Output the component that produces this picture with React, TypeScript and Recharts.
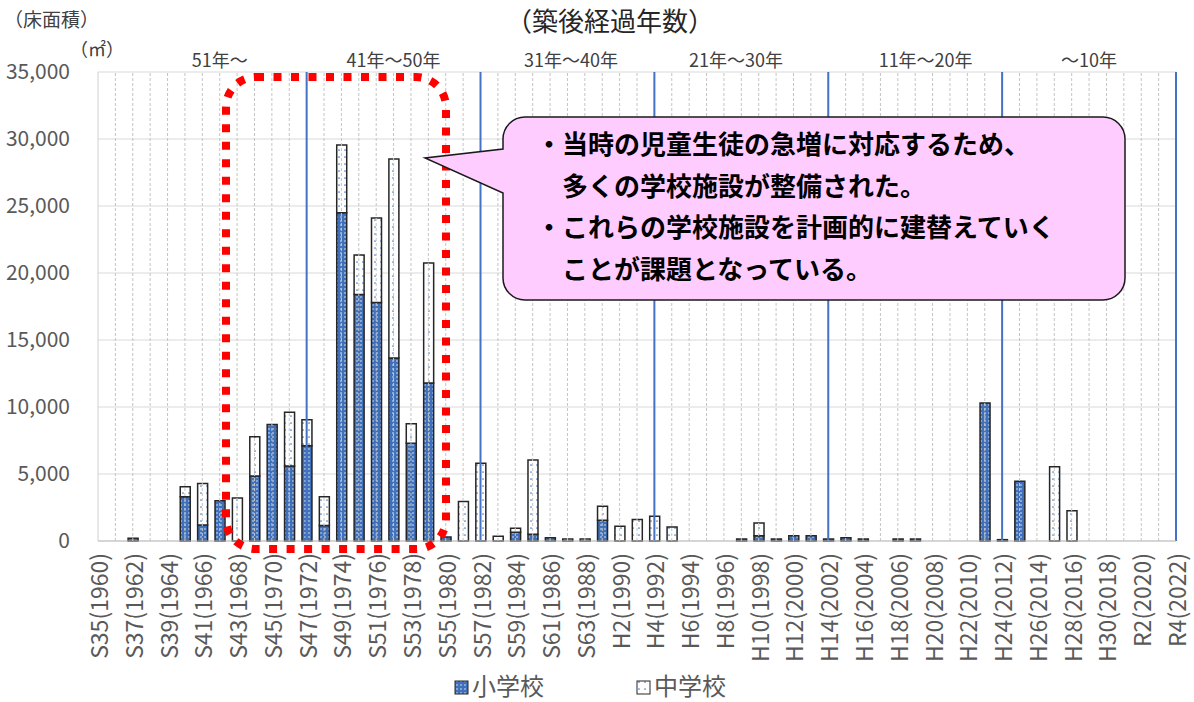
import { Bar, BarChart, CartesianGrid, ReferenceLine, XAxis, YAxis } from "recharts";

const years = [
  1960, 1961, 1962, 1963, 1964, 1965, 1966, 1967, 1968, 1969,
  1970, 1971, 1972, 1973, 1974, 1975, 1976, 1977, 1978, 1979,
  1980, 1981, 1982, 1983, 1984, 1985, 1986, 1987, 1988, 1989,
  1990, 1991, 1992, 1993, 1994, 1995, 1996, 1997, 1998, 1999,
  2000, 2001, 2002, 2003, 2004, 2005, 2006, 2007, 2008, 2009,
  2010, 2011, 2012, 2013, 2014, 2015, 2016, 2017, 2018, 2019,
  2020, 2021, 2022,
];

// 小学校 (m²)
const elementary = [
  0, 0, 200, 0, 0, 3300, 1200, 3000, 0, 4850,
  8700, 5600, 7100, 1150, 24500, 18400, 17800, 13650, 7300, 11800,
  300, 0, 0, 0, 650, 500, 250, 0, 0, 1550,
  0, 0, 0, 0, 0, 0, 0, 150, 400, 150,
  400, 400, 150, 250, 150, 0, 150, 150, 0, 0,
  0, 10300, 100, 4450, 0, 0, 0, 0, 0, 0,
  0, 0, 0,
];

// 中学校 (m²)
const junior = [
  0, 0, 0, 0, 0, 750, 3100, 0, 3200, 2930,
  0, 4000, 1950, 2150, 5050, 2950, 6300, 14850, 1450, 8950,
  0, 2950, 5800, 350, 300, 5550, 0, 150, 150, 1050,
  1100, 1600, 1850, 1050, 0, 0, 0, 0, 950, 0,
  0, 0, 0, 0, 0, 0, 0, 0, 0, 0,
  0, 0, 0, 0, 0, 5550, 2250, 0, 0, 0,
  0, 0, 0,
];

const tickYears = [
  1960, 1962, 1964, 1966, 1968, 1970, 1972, 1974, 1976, 1978, 1980,
  1982, 1984, 1986, 1988, 1990, 1992, 1994, 1996, 1998, 2000, 2002,
  2004, 2006, 2008, 2010, 2012, 2014, 2016, 2018, 2020, 2022,
];
const tickLabels = [
  "S35(1960)", "S37(1962)", "S39(1964)", "S41(1966)", "S43(1968)", "S45(1970)",
  "S47(1972)", "S49(1974)", "S51(1976)", "S53(1978)", "S55(1980)", "S57(1982)",
  "S59(1984)", "S61(1986)", "S63(1988)", "H2(1990)", "H4(1992)", "H6(1994)",
  "H8(1996)", "H10(1998)", "H12(2000)", "H14(2002)", "H16(2004)", "H18(2006)",
  "H20(2008)", "H22(2010)", "H24(2012)", "H26(2014)", "H28(2016)", "H30(2018)",
  "R2(2020)", "R4(2022)",
];

const yTicks = [0, 5000, 10000, 15000, 20000, 25000, 30000, 35000];

// 築後経過年数の区切り
const periodYears = [1972, 1982, 1992, 2002, 2012, 2022];
const periodLabels = ["51年～", "41年～50年", "31年～40年", "21年～30年", "11年～20年", "～10年"];
const periodLabelAt = [1967, 1977, 1987.2, 1996.7, 2007.6, 2017];

const calloutLines = [
  "・当時の児童生徒の急増に対応するため、",
  "　多くの学校施設が整備された。",
  "・これらの学校施設を計画的に建替えていく",
  "　ことが課題となっている。",
];

const data = years.map((year, i) => ({
  year,
  elementary: elementary[i],
  junior: junior[i],
}));

const FONT = "'Noto Sans CJK JP', 'Noto Sans', sans-serif";
const AXIS_TEXT = "#595959";

function XTick(props: any) {
  const { x, y, payload } = props;
  const idx = tickYears.indexOf(payload.value);
  const ty = y + 10;
  return (
    <text
      x={x}
      y={ty}
      transform={`rotate(-90 ${x} ${ty})`}
      textAnchor="end"
      dominantBaseline="central"
      fontSize={23}
      fill={AXIS_TEXT}
      fontFamily={FONT}
    >
      {tickLabels[idx]}
    </text>
  );
}

export default function App() {
  const r = 22;
  const bx0 = 503;
  const by0 = 117;
  const bx1 = 1125;
  const by1 = 300;
  const calloutPath =
    `M ${bx0 + r} ${by0} H ${bx1 - r} A ${r} ${r} 0 0 1 ${bx1} ${by0 + r} ` +
    `V ${by1 - r} A ${r} ${r} 0 0 1 ${bx1 - r} ${by1} H ${bx0 + r} ` +
    `A ${r} ${r} 0 0 1 ${bx0} ${by1 - r} V 193 L 425 158 L ${bx0} 149 ` +
    `V ${by0 + r} A ${r} ${r} 0 0 1 ${bx0 + r} ${by0} Z`;

  return (
    <div style={{ position: "absolute", left: 0, top: 0, width: 1194, height: 702, background: "#fff", fontFamily: FONT }}>
      <div style={{ position: "absolute", left: 0, top: 0 }}>
        <BarChart
          width={1194}
          height={702}
          data={data}
          margin={{ top: 72, right: 18, bottom: 31, left: 8 }}
          barGap={0}
        >
          <CartesianGrid vertical={false} stroke="#d9d9d9" />
          <XAxis
            dataKey="year"
            type="number"
            domain={[1960, 2022]}
            ticks={tickYears}
            interval={0}
            height={130}
            tickLine={false}
            tickSize={0}
            axisLine={{ stroke: "#bfbfbf" }}
            tick={<XTick />}
            allowDataOverflow
          />
          <YAxis
            domain={[0, 35000]}
            ticks={yTicks}
            width={90}
            tickLine={false}
            tickSize={0}
            tickMargin={28}
            axisLine={{ stroke: "#d0d0d0" }}
            tick={{ fontSize: 21, fill: AXIS_TEXT, fontFamily: FONT }}
            tickFormatter={(v: number) => v.toLocaleString("en-US")}
          />
          {years.slice(1).map((yr) => (
            <ReferenceLine key={`g${yr}`} x={yr} stroke="#c4c4c4" strokeDasharray="3 2" />
          ))}
          {periodYears.map((yr) => (
            <ReferenceLine key={`p${yr}`} x={yr} stroke="#4472c4" strokeWidth={2} />
          ))}
          {periodLabelAt.map((yr, i) => (
            <ReferenceLine
              key={`l${yr}`}
              x={yr}
              stroke="none"
              label={{ value: periodLabels[i], position: "top", offset: 5, fontSize: 18, fill: "#404040", fontFamily: FONT }}
            />
          ))}
          <Bar dataKey="elementary" stackId="a" barSize={10} fill="url(#patElem)" stroke="#262626" strokeWidth={1.5} isAnimationActive={false} />
          <Bar dataKey="junior" stackId="a" barSize={10} fill="url(#patJunior)" stroke="#262626" strokeWidth={1.5} isAnimationActive={false} />
        </BarChart>
      </div>

      <svg width={1194} height={702} style={{ position: "absolute", left: 0, top: 0, pointerEvents: "none" }}>
        <defs>
          <pattern id="patElem" width="4" height="4" patternUnits="userSpaceOnUse">
            <rect width="4" height="4" fill="#3f70b9" />
            <circle cx="1" cy="1" r="0.8" fill="#e4ecf8" />
          </pattern>
          <pattern id="patJunior" width="6" height="7" patternUnits="userSpaceOnUse">
            <rect width="6" height="7" fill="#ffffff" />
            <circle cx="3" cy="3" r="0.85" fill="#4a7cc4" />
          </pattern>
        </defs>

        <text x={4} y={27} fontSize={19} fill="#404040" fontFamily={FONT}>（床面積）</text>
        <text x={70} y={56} fontSize={18} fill="#404040" fontFamily={FONT}>（㎡）</text>
        <text x={610} y={31} fontSize={26} fill="#262626" textAnchor="middle" fontFamily={FONT}>（築後経過年数）</text>

        <rect
          x={226}
          y={77}
          width={220}
          height={472}
          rx={30}
          ry={30}
          fill="none"
          stroke="#ff0000"
          strokeWidth={8}
          strokeDasharray="8 9.5"
        />

        <path d={calloutPath} fill="#ffccff" stroke="#1a1a1a" strokeWidth={1.5} />
        {calloutLines.map((line, i) => (
          <text key={i} x={536} y={154 + i * 41.7} fontSize={26} fontWeight="bold" fill="#000" fontFamily={FONT}>
            {line}
          </text>
        ))}

        <rect x={455} y={681} width={13} height={13} fill="url(#patElem)" stroke="#262626" strokeWidth={1} />
        <text x={472} y={695} fontSize={24} fill={AXIS_TEXT} fontFamily={FONT}>小学校</text>
        <rect x={637} y={681} width={13} height={13} fill="url(#patJunior)" stroke="#262626" strokeWidth={1} />
        <text x={654} y={695} fontSize={24} fill={AXIS_TEXT} fontFamily={FONT}>中学校</text>
      </svg>
    </div>
  );
}
